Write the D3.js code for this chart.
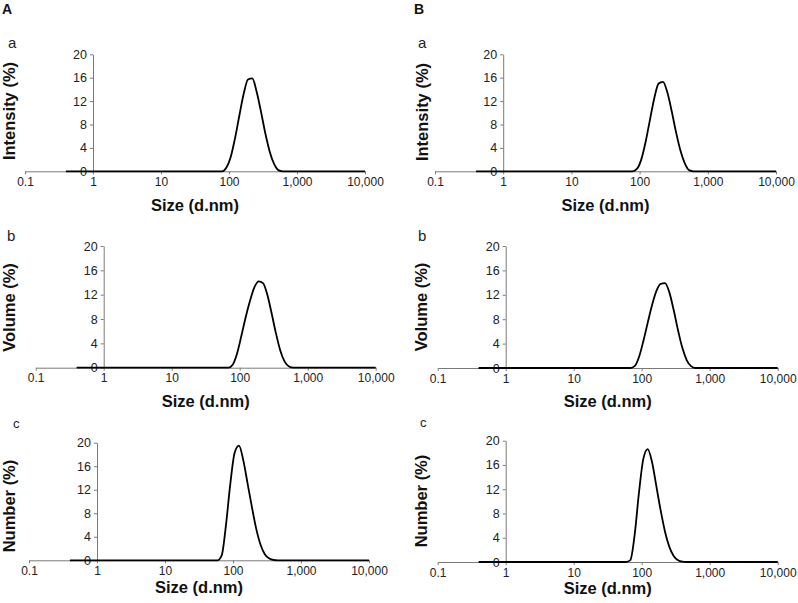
<!DOCTYPE html>
<html>
<head>
<meta charset="utf-8">
<script src="https://cdn.jsdelivr.net/npm/d3@7"></script>
<style>
  html, body { margin: 0; padding: 0; background: #fff; }
  svg { display: block; font-family: "Liberation Sans", Arial, sans-serif; }
</style>
</head>
<body>
<svg id="chart" width="798" height="603"></svg>
<script>
// ---------------- DATA ----------------
const sizeBins = [0.4, 0.4632, 0.5365, 0.6213, 0.7195, 0.8332, 0.9649, 1.117, 1.294, 1.499,
  1.736, 2.01, 2.328, 2.696, 3.122, 3.615, 4.187, 4.849, 5.615, 6.503,
  7.531, 8.721, 10.1, 11.7, 13.54, 15.69, 18.17, 21.04, 24.36, 28.21,
  32.67, 37.84, 43.82, 50.75, 58.77, 68.06, 78.82, 91.28, 105.7, 122.4,
  141.8, 164.2, 190.1, 220.2, 255.0, 295.3, 342.0, 396.1, 458.7, 531.2,
  615.1, 712.4, 825.0, 955.4, 1106, 1281, 1484, 1718, 1990, 2305,
  2669, 3091, 3580, 4145, 4801, 5560, 6439, 7456, 8635, 10000];

const intensityA = [0,0,0,0,0,0,0,0,0,0, 0,0,0,0,0,0,0,0,0,0, 0,0,0,0,0,0,0,0,0,0, 0,0,0,0,
  0,0,0,0.6,2.4,5.6,9.5,13.2,15.7,15.9,13.6,10.2,6.5,3.4,1.3,0.2,0,
  0,0,0,0,0,0,0,0,0,0, 0,0,0,0,0,0,0,0,0];
const volumeA = [0,0,0,0,0,0,0,0,0,0, 0,0,0,0,0,0,0,0,0,0, 0,0,0,0,0,0,0,0,0,0, 0,0,0,0,
  0,0,0.5,2.3,5.2,8.3,11.0,13.2,14.2,13.9,12.0,8.9,5.6,2.8,1.0,0.2,0,
  0,0,0,0,0,0,0,0,0,0, 0,0,0,0,0,0,0,0,0];
const numberA = [0,0,0,0,0,0,0,0,0,0, 0,0,0,0,0,0,0,0,0,0, 0,0,0,0,0,0,0,0,0,0, 0,0,0,0,
  0,0.8,6.0,13.0,18.3,19.5,17.0,13.0,9.0,5.3,2.6,1.0,0.3,0.05,0,0,0,
  0,0,0,0,0,0,0,0,0,0, 0,0,0,0,0,0,0,0,0];
const intensityB = [0,0,0,0,0,0,0,0,0,0, 0,0,0,0,0,0,0,0,0,0, 0,0,0,0,0,0,0,0,0,0, 0,0,0,0,
  0,0,0,0.4,2.0,5.0,8.8,12.5,15.0,15.3,13.5,10.3,6.7,3.6,1.4,0.2,0,
  0,0,0,0,0,0,0,0,0,0, 0,0,0,0,0,0,0,0,0];
const volumeB = [0,0,0,0,0,0,0,0,0,0, 0,0,0,0,0,0,0,0,0,0, 0,0,0,0,0,0,0,0,0,0, 0,0,0,0,
  0,0,0.3,1.8,4.4,7.4,10.3,12.6,13.8,13.9,12.4,9.5,6.2,3.3,1.3,0.3,0,
  0,0,0,0,0,0,0,0,0,0, 0,0,0,0,0,0,0,0,0];
const numberB = [0,0,0,0,0,0,0,0,0,0, 0,0,0,0,0,0,0,0,0,0, 0,0,0,0,0,0,0,0,0,0, 0,0,0,0,
  0,0.3,4.5,11.5,17.0,18.6,16.5,12.5,8.5,5.0,2.5,1.0,0.3,0.05,0,0,0,
  0,0,0,0,0,0,0,0,0,0, 0,0,0,0,0,0,0,0,0];

const xTickValues = [0.1, 1, 10, 100, 1000, 10000];
const xTickLabels = ["0.1", "1", "10", "100", "1,000", "10,000"];
const yTickValues = [0, 4, 8, 12, 16, 20];
const yTitles = ["Intensity (%)", "Volume (%)", "Number (%)"];
const panelLetters = ["a", "b", "c"];
const groupLetters = ["A", "B"];
const xTitle = "Size (d.nm)";
const seriesByGroup = [[intensityA, volumeA, numberA], [intensityB, volumeB, numberB]];

// ---------------- LAYOUT ----------------
// [group][row]: x0 = pixel of 0.1, x1 = pixel of 10000, yT = pixel of 20, yB = pixel of 0
const layout = [
  [
    {x0: 25,    x1: 365,   yT: 54.3,  yB: 171.3, letter: [8, 48],  ytx: 9,   yty: 111,   xtY: 205},
    {x0: 35.7,  x1: 375.7, yT: 246,   yB: 367.7, letter: [7, 241], ytx: 9,   yty: 307.5, xtY: 401},
    {x0: 29,    x1: 369,   yT: 442.7, yB: 560.3, letter: [13, 428],ytx: 9,   yty: 506,   xtY: 587}
  ],
  [
    {x0: 435,   x1: 776,   yT: 54.3,  yB: 171.3, letter: [418, 48], ytx: 421.5, yty: 112, xtY: 205},
    {x0: 437.7, x1: 777.7, yT: 246,   yB: 368,   letter: [418, 241],ytx: 421,   yty: 307, xtY: 401},
    {x0: 437.7, x1: 777.7, yT: 440.7, yB: 562,   letter: [420, 427],ytx: 421,   yty: 501, xtY: 588}
  ]
];
const groupLetterPos = [[2, 14], [414, 14]];

const svg = d3.select("#chart");
const axisColor = "#7a7a7a";

groupLetters.forEach((g, gi) => {
  svg.append("text")
    .attr("x", groupLetterPos[gi][0]).attr("y", groupLetterPos[gi][1])
    .style("font-size", "14px").attr("font-weight", "bold").attr("fill", "#111")
    .text(g);

  layout[gi].forEach((L, ri) => {
    const x = d3.scaleLog().domain([0.1, 10000]).range([L.x0, L.x1]);
    const y = d3.scaleLinear().domain([0, 20]).range([L.yB, L.yT]);
    const panel = svg.append("g");

    // x axis
    const xAxis = panel.append("g")
      .attr("transform", `translate(0,${y(0)})`)
      .call(d3.axisBottom(x).tickValues(xTickValues)
        .tickFormat((d, i) => xTickLabels[i]).tickSize(3).tickSizeOuter(0).tickPadding(3));
    xAxis.attr("font-size", null).attr("font-family", null);
    xAxis.select(".domain").attr("stroke", axisColor);
    xAxis.selectAll(".tick line").attr("stroke", axisColor);
    xAxis.selectAll(".tick text").style("font-size", "12px").attr("fill", "#222");

    // y axis crossing at x = 1
    const yAxis = panel.append("g")
      .attr("transform", `translate(${x(1)},0)`)
      .call(d3.axisLeft(y).tickValues(yTickValues).tickSize(3).tickSizeOuter(0).tickPadding(3));
    yAxis.attr("font-size", null).attr("font-family", null);
    yAxis.select(".domain").attr("stroke", axisColor);
    yAxis.selectAll(".tick line").attr("stroke", axisColor);
    yAxis.selectAll(".tick text").style("font-size", "12.5px").attr("fill", "#222");

    // data line
    const vals = seriesByGroup[gi][ri];
    const pts = sizeBins.map((s, i) => [s, vals[i]]);
    const line = d3.line().x(d => x(d[0])).y(d => y(d[1])).curve(d3.curveMonotoneX);
    panel.append("path").datum(pts)
      .attr("d", line).attr("fill", "none")
      .attr("stroke", "#000").attr("stroke-width", 1.8).attr("stroke-linejoin", "round");

    // panel letter
    panel.append("text").attr("x", L.letter[0]).attr("y", L.letter[1])
      .style("font-size", ri === 2 ? "13px" : "15px").attr("fill", "#222").text(panelLetters[ri]);

    // y title
    panel.append("text")
      .attr("transform", `translate(${L.ytx},${L.yty}) rotate(-90)`)
      .attr("text-anchor", "middle").attr("dominant-baseline", "central")
      .style("font-size", "16.5px").attr("font-weight", "bold").attr("fill", "#111")
      .text(yTitles[ri]);

    // x title
    panel.append("text")
      .attr("x", (L.x0 + L.x1) / 2).attr("y", L.xtY)
      .attr("text-anchor", "middle").attr("dominant-baseline", "central")
      .style("font-size", "16.5px").attr("font-weight", "bold").attr("fill", "#111")
      .text(xTitle);
  });
});
</script>
</body>
</html>
